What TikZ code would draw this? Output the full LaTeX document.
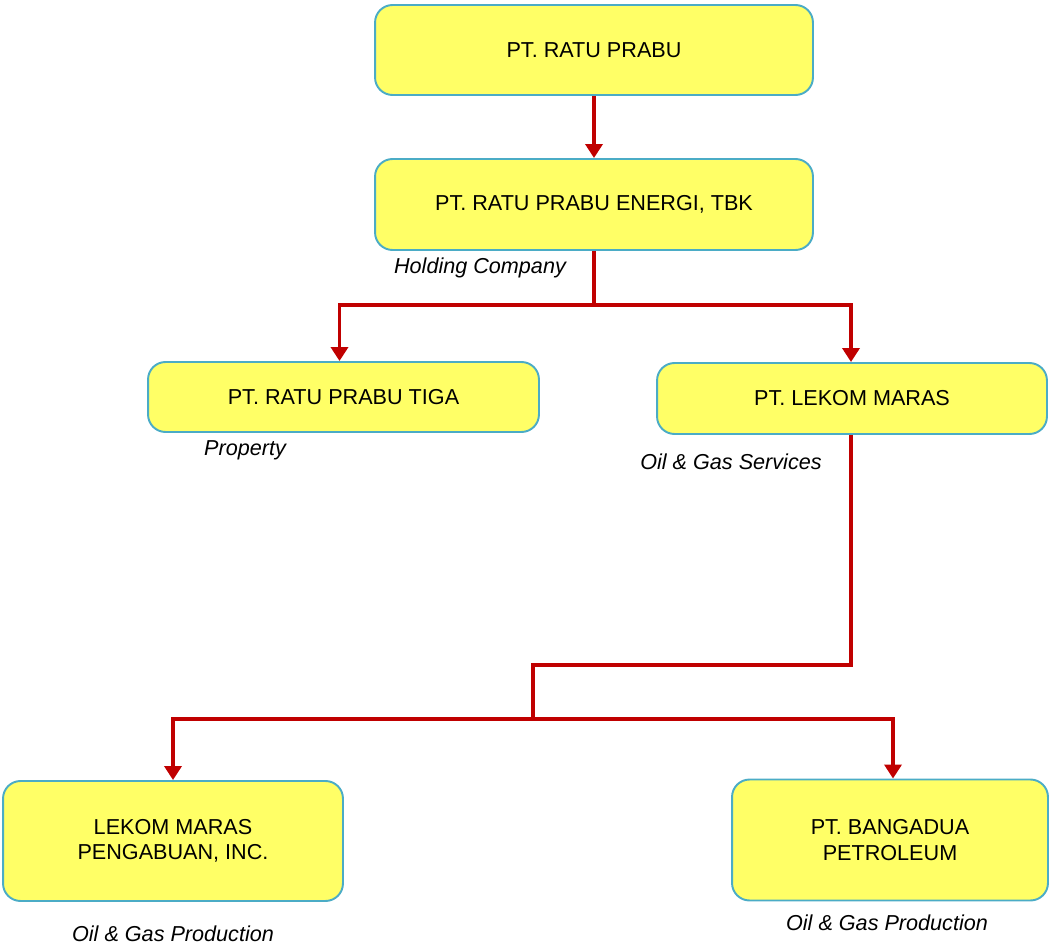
\documentclass[tikz,border=0pt]{standalone}
\usepackage{fontspec}
\setmainfont{Liberation Sans}
\usetikzlibrary{arrows.meta}
\definecolor{boxfill}{HTML}{FFFF66}
\definecolor{boxline}{HTML}{4BACC6}
\definecolor{linkred}{HTML}{C00000}
\begin{document}
\begin{tikzpicture}[x=0.02cm,y=-0.02cm]
	\tikzset{company/.style={draw=boxline,fill=boxfill,line width=1.1pt,rounded corners=0.35cm,align=center,font=\fontsize{12.3}{14.5}\selectfont,inner sep=0pt},
		 sector/.style={font=\fontsize{12.3}{14.5}\selectfont\itshape},
		 link/.style={linkred,line width=2.1pt},
		 arr/.style={link,-{Triangle[length=0.28cm,width=0.34cm]}}}
	\useasboundingbox (0,0) rectangle (1051,945);
	\node[company,minimum width=8.76cm,minimum height=1.8cm] (ratu) at (594,50) {PT. RATU PRABU}; %companies
	\node[company,minimum width=8.76cm,minimum height=1.82cm] (energi) at (594,204.5) {PT. RATU PRABU ENERGI, TBK};
	\node[company,minimum width=7.82cm,minimum height=1.4cm] (tiga) at (343.5,397) {PT. RATU PRABU TIGA};
	\node[company,minimum width=7.8cm,minimum height=1.42cm] (lekom) at (852,398.5) {PT. LEKOM MARAS};
	\node[company,minimum width=6.8cm,minimum height=2.4cm] (pengabuan) at (173,841) {LEKOM MARAS\\PENGABUAN, INC.};
	\node[company,minimum width=6.32cm,minimum height=2.42cm] (bangadua) at (890,840) {PT. BANGADUA\\PETROLEUM};
	\node[sector] (holding) at (480,268) {Holding Company}; %business lines
	\node[sector] (property) at (245,450) {Property};
	\node[sector] (services) at (731,462) {Oil \& Gas Services};
	\node[sector] (prodA) at (173,934) {Oil \& Gas Production};
	\node[sector] (prodB) at (887,923) {Oil \& Gas Production};
	\coordinate (j1) at (594,305); %junctions
	\coordinate (k1) at (533,665);
	\coordinate (j2) at (533,719);
	\draw[arr] (ratu.south) -- (energi.north); %links
	\draw[link] (energi.south) -- (j1);
	\draw[arr] (j1) -| ([xshift=-0.08cm]tiga.north);
	\draw[arr] (j1) -| ([xshift=-0.02cm]lekom.north);
	\draw[link] ([xshift=-0.02cm]lekom.south) |- (k1) -- (j2);
	\draw[arr] (j2) -| (pengabuan.north);
	\draw[arr] (j2) -| ([xshift=0.06cm]bangadua.north);
\end{tikzpicture}
\end{document}
